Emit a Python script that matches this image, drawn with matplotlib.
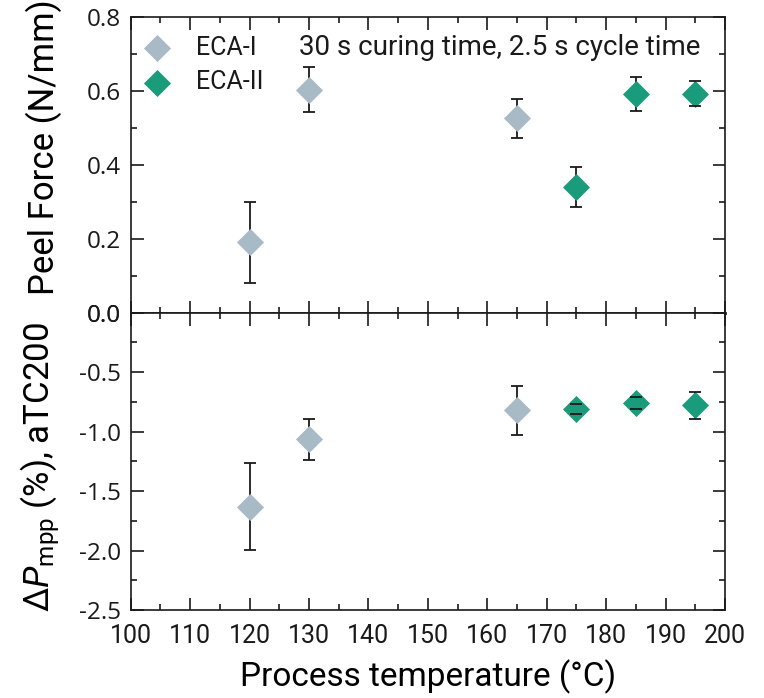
import numpy as np
import matplotlib
matplotlib.use("Agg")
import matplotlib.pyplot as plt
from matplotlib.ticker import MultipleLocator, FormatStrFormatter

# data
temp_eca1 = [120, 130, 165]
temp_eca2 = [175, 185, 195]

peel_eca1 = [0.19, 0.603, 0.525]
peel_eca1_err = [0.11, 0.06, 0.052]
peel_eca2 = [0.34, 0.59, 0.592]
peel_eca2_err = [0.054, 0.046, 0.034]

dp_eca1 = [-1.63, -1.065, -0.82]
dp_eca1_err = [0.365, 0.17, 0.205]
dp_eca2 = [-0.81, -0.76, -0.78]
dp_eca2_err = [0.045, 0.05, 0.115]

labels = ["ECA-I", "ECA-II"]
col_gray = "#a9bac7"
col_green = "#1a9b7b"
ink = "#1a1a1a"

plt.rcParams['font.family'] = ['Roboto', 'DejaVu Sans']
plt.rcParams['mathtext.fontset'] = 'custom'
plt.rcParams['mathtext.rm'] = 'Roboto'
plt.rcParams['mathtext.it'] = 'Roboto:italic'
plt.rcParams['axes.unicode_minus'] = False
plt.rcParams['text.color'] = ink

fig = plt.figure(figsize=(7.64, 6.98), dpi=100)
ax1 = fig.add_axes([0.171, 0.552, 0.778, 0.424])
ax2 = fig.add_axes([0.171, 0.126, 0.778, 0.426], sharex=ax1)


def draw(ax, x, y, err, color, label):
    ax.scatter(x, y, marker='D', s=190, color=color, zorder=3, label=label,
               linewidths=0)
    _, caps, bars = ax.errorbar(x, y, yerr=err, fmt='none', ecolor=ink,
                                elinewidth=1.3, capsize=4.5, capthick=1.3, zorder=2)
    for c in caps:
        c.set_zorder(4)


draw(ax1, temp_eca1, peel_eca1, peel_eca1_err, col_gray, labels[0])
draw(ax1, temp_eca2, peel_eca2, peel_eca2_err, col_green, labels[1])
draw(ax2, temp_eca1, dp_eca1, dp_eca1_err, col_gray, labels[0])
draw(ax2, temp_eca2, dp_eca2, dp_eca2_err, col_green, labels[1])

ax1.set_xlim(100, 200)
ax1.set_ylim(0, 0.8)
ax2.set_ylim(-2.5, 0)

ax1.xaxis.set_major_locator(MultipleLocator(10))
ax1.xaxis.set_minor_locator(MultipleLocator(5))
ax1.yaxis.set_major_locator(MultipleLocator(0.2))
ax1.yaxis.set_minor_locator(MultipleLocator(0.1))
ax1.yaxis.set_major_formatter(FormatStrFormatter('%.1f'))
ax2.yaxis.set_major_locator(MultipleLocator(0.5))
ax2.yaxis.set_minor_locator(MultipleLocator(0.25))
ax2.yaxis.set_major_formatter(FormatStrFormatter('%.1f'))

for ax in (ax1, ax2):
    ax.tick_params(which='both', direction='in', top=True, right=True,
                   labelsize=18, width=1.2, color=ink, labelcolor=ink)
    ax.tick_params(which='major', length=9)
    ax.tick_params(which='minor', length=4)
    ax.tick_params(axis='y', which='major', pad=7)
    for s in ax.spines.values():
        s.set_linewidth(1.2)
        s.set_color(ink)
    # y tick numbers use a wider face than the rest
    for lbl in ax.get_yticklabels():
        lbl.set_fontfamily(['Open Sans', 'DejaVu Sans'])
        lbl.set_fontsize(17.5)

ax1.tick_params(axis='x', labelbottom=False)
ax2.tick_params(axis='x', which='major', pad=10)
ax1.spines['bottom'].set_linewidth(2)

ax1.set_ylabel("Peel Force (N/mm)", fontsize=25)
ax2.set_ylabel(r"$\Delta P_{\rm mpp}$ (%), aTC200", fontsize=25)
ax2.set_xlabel("Process temperature (°C)", fontsize=24)
ax1.yaxis.set_label_coords(-0.115, 0.56)
ax2.yaxis.set_label_coords(-0.115, 0.48)
ax2.xaxis.set_label_coords(0.5, -0.165)

ax1.legend(loc='upper left', bbox_to_anchor=(0.024, 0.935), frameon=False,
           fontsize=18, handlelength=1.0, handletextpad=1.05, borderpad=0,
           borderaxespad=0, labelspacing=0.42, scatterpoints=1)
ax1.text(0.958, 0.895, "30 s curing time, 2.5 s cycle time", transform=ax1.transAxes,
         ha='right', va='center', fontsize=20)

fig.savefig("out.png", dpi=100)
